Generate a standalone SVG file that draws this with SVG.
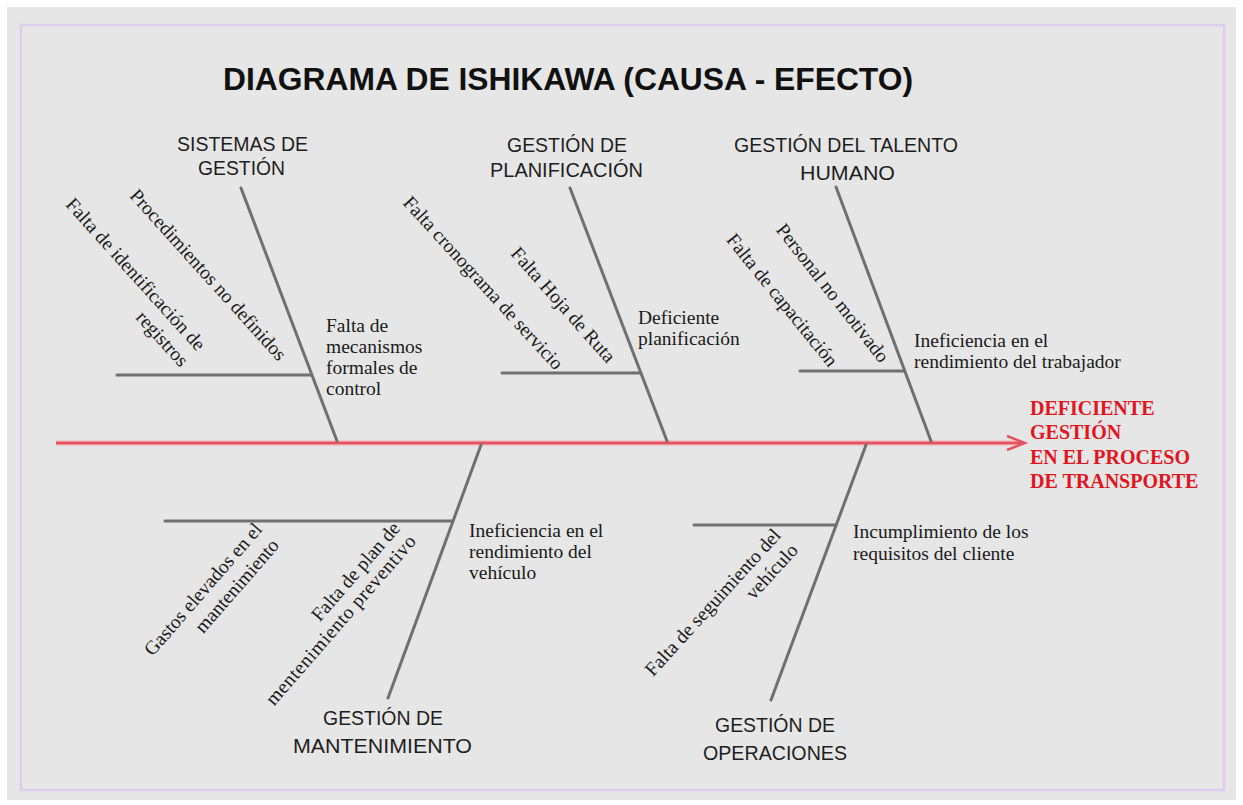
<svg xmlns="http://www.w3.org/2000/svg" width="1243" height="805" viewBox="0 0 1243 805">
<style>
.bg{fill:#e6e6e6}
.frame{fill:none;stroke:#dccdee;stroke-width:2.5}
.bone{stroke:#707070;stroke-width:3;fill:none;stroke-linecap:round}
.spine-halo{stroke:#f2a9b0;stroke-width:5;fill:none}
.spine{stroke:#e4515f;stroke-width:2.5;fill:none}
.cat{font-family:"Liberation Sans",Arial,sans-serif;font-size:21px;fill:#1e1e1e}
.title{font-family:"Liberation Sans",Arial,sans-serif;font-size:32px;font-weight:bold;fill:#111}
.cause{font-family:"Liberation Serif","Times New Roman",serif;font-size:19.5px;fill:#1a1a1a}
.effect{font-family:"Liberation Serif","Times New Roman",serif;font-size:20px;font-weight:bold;fill:#e3141e}
</style>
<rect x="0" y="0" width="1243" height="805" fill="#ffffff"/>
<rect class="bg" x="7" y="7" width="1229" height="793"/>
<rect class="frame" x="21" y="25" width="1203" height="765"/>

<g id="title">
<text class="title" x="223" y="90" textLength="690" lengthAdjust="spacingAndGlyphs">DIAGRAMA DE ISHIKAWA (CAUSA - EFECTO)</text>
</g>

<g id="connectors">
<line class="spine-halo" x1="56" y1="443" x2="1021" y2="443"/>
<line class="spine" x1="56" y1="443" x2="1022" y2="443"/>
<polyline class="spine" points="1007,436 1025,443 1007,450" stroke-width="2.5"/>
<line class="bone" x1="241" y1="188" x2="337" y2="441"/>
<line class="bone" x1="117" y1="375" x2="311" y2="375"/>
<line class="bone" x1="570" y1="188" x2="667" y2="441"/>
<line class="bone" x1="502" y1="373" x2="640" y2="373"/>
<line class="bone" x1="836" y1="187" x2="931" y2="441"/>
<line class="bone" x1="800" y1="371" x2="904" y2="371"/>
<line class="bone" x1="481" y1="445" x2="388" y2="698"/>
<line class="bone" x1="165" y1="521" x2="453" y2="521"/>
<line class="bone" x1="866" y1="445" x2="771" y2="700"/>
<line class="bone" x1="694" y1="525" x2="836" y2="525"/>
</g>

<g id="sistemas-gestion">
<text class="cat" x="177" y="151" textLength="131" lengthAdjust="spacingAndGlyphs">SISTEMAS DE</text>
<text class="cat" x="198" y="175" textLength="87" lengthAdjust="spacingAndGlyphs">GESTIÓN</text>
<text class="cause" text-anchor="end" transform="translate(197,352) rotate(48)">Falta de identificación de</text>
<text class="cause" text-anchor="end" transform="translate(180,368) rotate(48)">registros</text>
<text class="cause" text-anchor="end" transform="translate(278,362) rotate(48)">Procedimientos no definidos</text>
<text class="cause" x="326" y="332">Falta de</text>
<text class="cause" x="326" y="353">mecanismos</text>
<text class="cause" x="326" y="374">formales de</text>
<text class="cause" x="326" y="395">control</text>
</g>

<g id="gestion-planificacion">
<text class="cat" x="507" y="152" textLength="120" lengthAdjust="spacingAndGlyphs">GESTIÓN DE</text>
<text class="cat" x="490" y="177" textLength="153" lengthAdjust="spacingAndGlyphs">PLANIFICACIÓN</text>
<text class="cause" text-anchor="end" transform="translate(555,371) rotate(47.6)">Falta cronograma de servicio</text>
<text class="cause" text-anchor="end" transform="translate(607,364) rotate(48.5)">Falta Hoja de Ruta</text>
<text class="cause" x="638" y="324">Deficiente</text>
<text class="cause" x="638" y="345">planificación</text>
</g>

<g id="talento-humano">
<text class="cat" x="734" y="152" textLength="224" lengthAdjust="spacingAndGlyphs">GESTIÓN DEL TALENTO</text>
<text class="cat" x="800" y="180" textLength="95" lengthAdjust="spacingAndGlyphs">HUMANO</text>
<text class="cause" text-anchor="end" transform="translate(829,368) rotate(51)">Falta de capacitación</text>
<text class="cause" text-anchor="end" transform="translate(880,364) rotate(52)">Personal no motivado</text>
<text class="cause" x="914" y="347">Ineficiencia en el</text>
<text class="cause" x="914" y="368">rendimiento del trabajador</text>
</g>

<g id="gestion-mantenimiento">
<text class="cat" x="323" y="725" textLength="120" lengthAdjust="spacingAndGlyphs">GESTIÓN DE</text>
<text class="cat" x="293" y="753" textLength="179" lengthAdjust="spacingAndGlyphs">MANTENIMIENTO</text>
<text class="cause" text-anchor="end" transform="translate(263,530) rotate(-49)">Gastos elevados en el</text>
<text class="cause" text-anchor="end" transform="translate(280,546) rotate(-49)">mantenimiento</text>
<text class="cause" text-anchor="end" transform="translate(401,529) rotate(-49)">Falta de plan de</text>
<text class="cause" text-anchor="end" transform="translate(417,542) rotate(-49)" textLength="218" lengthAdjust="spacing">mentenimiento preventivo</text>
<text class="cause" x="469" y="537">Ineficiencia en el</text>
<text class="cause" x="469" y="558">rendimiento del</text>
<text class="cause" x="469" y="579">vehículo</text>
</g>

<g id="gestion-operaciones">
<text class="cat" x="715" y="732" textLength="120" lengthAdjust="spacingAndGlyphs">GESTIÓN DE</text>
<text class="cat" x="703" y="760" textLength="144" lengthAdjust="spacingAndGlyphs">OPERACIONES</text>
<text class="cause" text-anchor="end" transform="translate(782,536) rotate(-47.6)">Falta de seguimiento del</text>
<text class="cause" text-anchor="end" transform="translate(799,551) rotate(-47.6)">vehículo</text>
<text class="cause" x="853" y="538">Incumplimiento de los</text>
<text class="cause" x="853" y="560">requisitos del cliente</text>
</g>

<g id="efecto">
<text class="effect" x="1030" y="415">DEFICIENTE</text>
<text class="effect" x="1030" y="439">GESTIÓN</text>
<text class="effect" x="1030" y="464">EN EL PROCESO</text>
<text class="effect" x="1030" y="488">DE TRANSPORTE</text>
</g>
</svg>
